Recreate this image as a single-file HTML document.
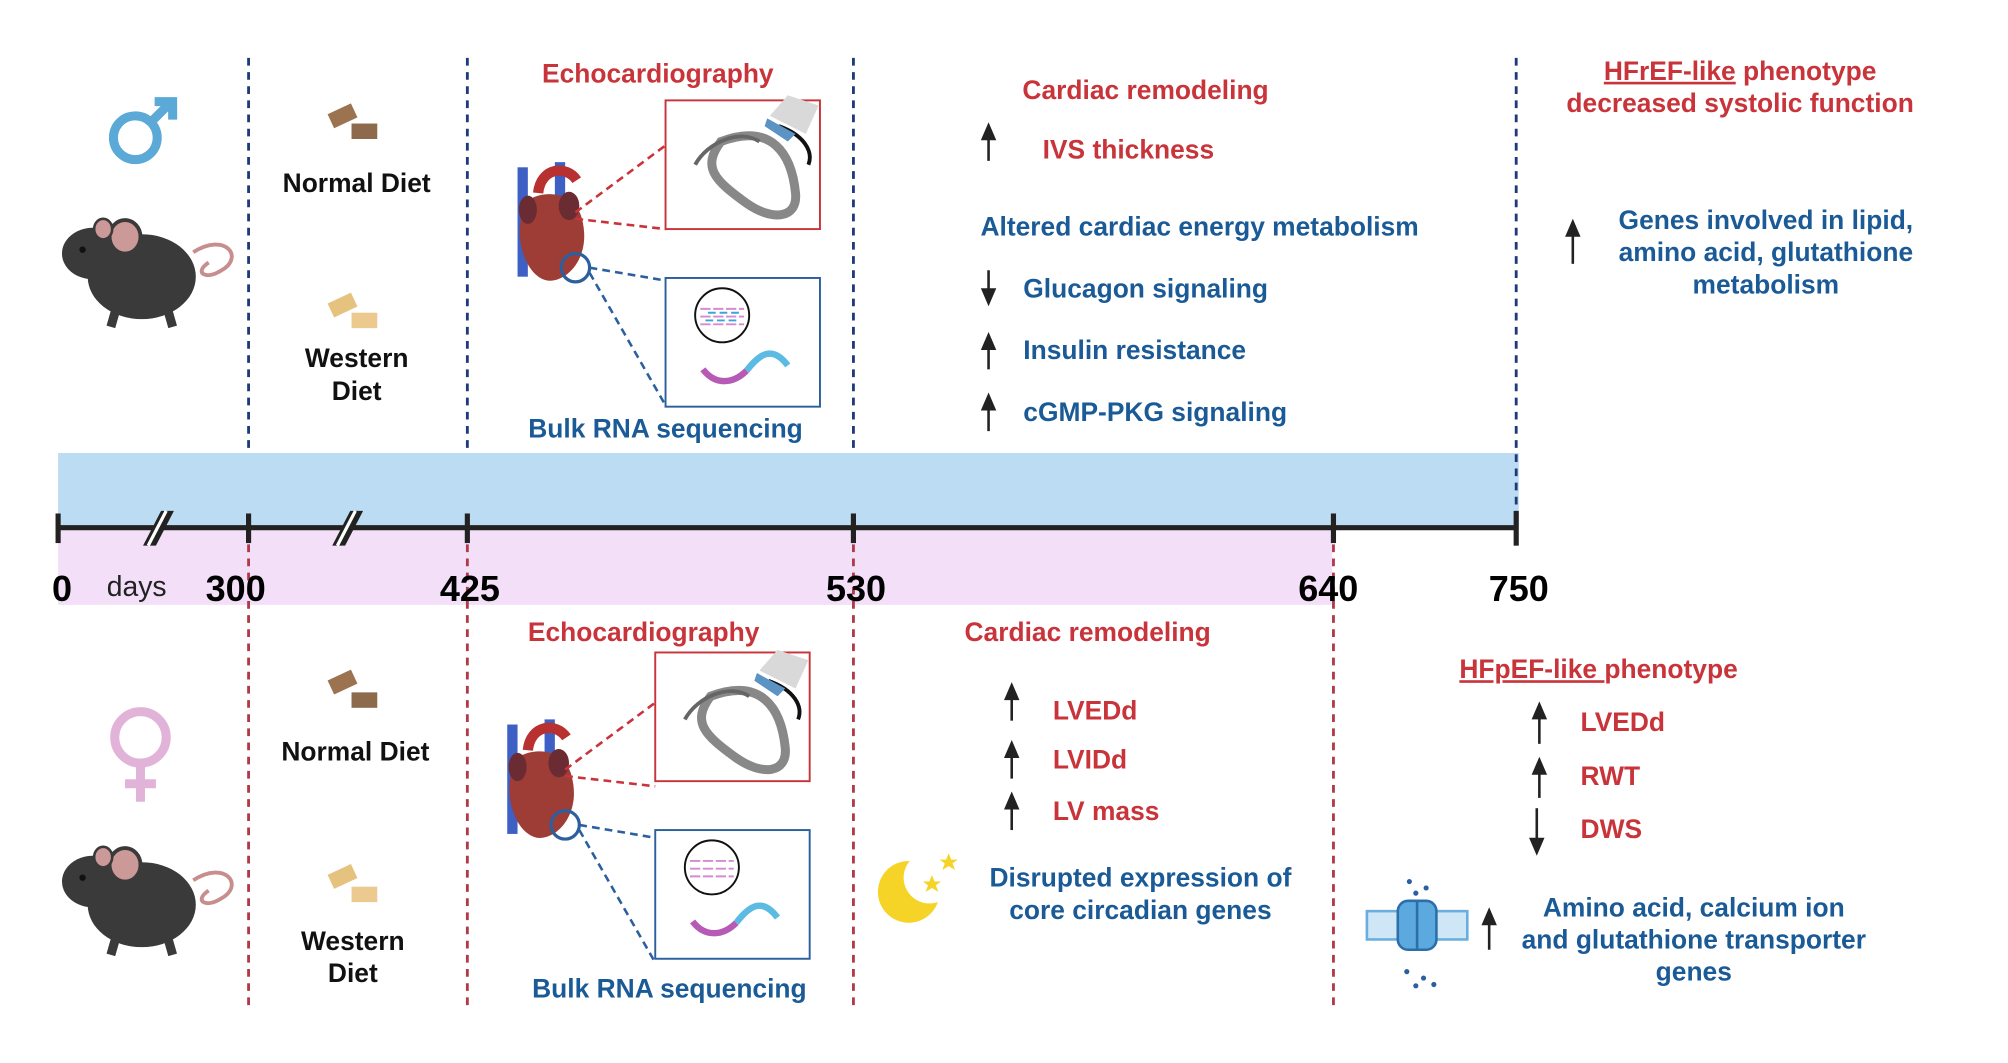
<!DOCTYPE html>
<html><head><meta charset="utf-8">
<style>
html,body{margin:0;padding:0;background:#fff;}
svg{display:block;}
text{font-family:"Liberation Sans",sans-serif;font-weight:bold;}
.r{fill:#c8343a;font-size:20.5px;}
.b{fill:#1a5a96;font-size:20.5px;}
.k{fill:#111;font-size:20.5px;}
.tk{fill:#000;font-size:28px;font-weight:bold;}
</style></head>
<body>
<svg id="fig" width="2008" height="1063" viewBox="0 0 1560 826" xmlns="http://www.w3.org/2000/svg">
<rect x="45" y="352" width="1135" height="58" fill="#bbdcf3"/>
<rect x="45" y="410" width="990" height="60" fill="#f3dff8"/>

<g id="vlines"></g>
<g id="axis"></g>

<g stroke="#5aa9d6" stroke-width="7" fill="none">
<circle cx="105" cy="107" r="17"/><path d="M117,95 L133,79 M120,79 L134,79 L134,93"/></g>
<g stroke="#e2b3d8" stroke-width="7" fill="none">
<circle cx="109" cy="573" r="20"/><path d="M109,593 L109,623 M97,609 L121,609"/></g>

<g>
<path d="M150,196 C175,180 190,200 172,210 C160,218 150,212 162,204" stroke="#c88e8e" stroke-width="3" fill="none"/>
<ellipse cx="110" cy="215" rx="42" ry="33" fill="#3a3a3a"/>
<ellipse cx="72" cy="197" rx="24" ry="20" fill="#3a3a3a"/>
<ellipse cx="97" cy="184" rx="12" ry="13" fill="#c99" stroke="#3a3a3a" stroke-width="3"/>
<ellipse cx="80" cy="178" rx="7" ry="8" fill="#c99" stroke="#3a3a3a" stroke-width="2"/>
<circle cx="64" cy="194" r="2.5" fill="#111"/>
<path d="M90,240 l-4,14 M130,240 l4,14" stroke="#3a3a3a" stroke-width="7"/>
</g>
<g transform="translate(0,488)">
<path d="M150,196 C175,180 190,200 172,210 C160,218 150,212 162,204" stroke="#c88e8e" stroke-width="3" fill="none"/>
<ellipse cx="110" cy="215" rx="42" ry="33" fill="#3a3a3a"/>
<ellipse cx="72" cy="197" rx="24" ry="20" fill="#3a3a3a"/>
<ellipse cx="97" cy="184" rx="12" ry="13" fill="#c99" stroke="#3a3a3a" stroke-width="3"/>
<ellipse cx="80" cy="178" rx="7" ry="8" fill="#c99" stroke="#3a3a3a" stroke-width="2"/>
<circle cx="64" cy="194" r="2.5" fill="#111"/>
<path d="M90,240 l-4,14 M130,240 l4,14" stroke="#3a3a3a" stroke-width="7"/>
</g>

<g><rect x="256" y="84" width="20" height="12" fill="#9c7350" transform="rotate(-25 266 90)"/><rect x="273" y="96" width="20" height="12" fill="#8d6a4c"/></g>
<g><rect x="256" y="231" width="20" height="12" fill="#e6c27f" transform="rotate(-25 266 237)"/><rect x="273" y="243" width="20" height="12" fill="#ecc98f"/></g>
<g><rect x="256" y="524" width="20" height="12" fill="#9c7350" transform="rotate(-25 266 530)"/><rect x="273" y="538" width="20" height="12" fill="#8d6a4c"/></g>
<g><rect x="256" y="675" width="20" height="12" fill="#e6c27f" transform="rotate(-25 266 681)"/><rect x="273" y="689" width="20" height="12" fill="#ecc98f"/></g>

<text class="k" x="277" y="149" text-anchor="middle">Normal Diet</text>
<text class="k" x="277" y="285" text-anchor="middle">Western</text>
<text class="k" x="277" y="311" text-anchor="middle">Diet</text>
<text class="k" x="276" y="591" text-anchor="middle">Normal Diet</text>
<text class="k" x="274" y="738" text-anchor="middle">Western</text>
<text class="k" x="274" y="763" text-anchor="middle">Diet</text>

<g>
<text class="r" x="511" y="64" text-anchor="middle">Echocardiography</text>
<g>
<rect x="402" y="130" width="8" height="85" fill="#3e5fc4"/><rect x="431" y="126" width="8" height="50" fill="#3e5fc4"/>
<path d="M418,150 C420,130 440,128 448,140" stroke="#b83030" stroke-width="8" fill="none"/>
<path d="M405,168 C400,150 445,140 452,170 C460,200 440,220 425,218 C410,215 400,190 405,168 Z" fill="#9e3c36"/>
<ellipse cx="410" cy="163" rx="7" ry="11" fill="#6a2b32"/><ellipse cx="442" cy="160" rx="8" ry="11" fill="#6a2b32"/>
<circle cx="447" cy="208" r="11" fill="none" stroke="#2b5f9e" stroke-width="2.5"/>
</g>
<path d="M447,165 L517,113 M447,170 L517,178" stroke="#c8343a" stroke-width="2" stroke-dasharray="6,4" fill="none"/>
<path d="M458,208 L517,218 M458,212 L517,315" stroke="#2b5f9e" stroke-width="2" stroke-dasharray="6,4" fill="none"/>
<rect x="517" y="78" width="120" height="100" fill="#fff" stroke="#c8343a" stroke-width="1.5"/>
<path d="M560,110 C600,95 615,120 618,150 C620,170 600,172 580,158 C555,140 545,130 560,110 Z" fill="none" stroke="#888" stroke-width="7"/>
<path d="M540,128 C550,110 575,100 590,110" stroke="#666" stroke-width="3" fill="none"/>
<path d="M605,98 C625,105 632,118 628,128" stroke="#111" stroke-width="3" fill="none"/>
<path d="M598,90 L612,74 L636,82 L626,104 Z" fill="#d9d9d9"/><path d="M596,92 L618,104 L612,110 L594,98 Z" fill="#5b93c4"/>
<rect x="517" y="216" width="120" height="100" fill="#fff" stroke="#2b5f9e" stroke-width="1.5"/>
<circle cx="561" cy="245" r="21" fill="#fff" stroke="#111" stroke-width="1.5"/>
<path d="M544,240 h34 M544,246 h34 M544,252 h34" stroke="#d68bd0" stroke-width="1.5" stroke-dasharray="8,2"/>
<path d="M550,243 h24 M548,249 h26" stroke="#3aa5dc" stroke-width="1.5" stroke-dasharray="6,3"/>
<path d="M546,287 C556,300 570,298 580,288" stroke="#b65ab5" stroke-width="5" fill="none"/>
<path d="M580,288 C590,275 600,268 612,284" stroke="#5bbbe2" stroke-width="5" fill="none"/>
<text class="b" x="517" y="340" text-anchor="middle">Bulk RNA sequencing</text>
</g>
<g transform="translate(-8,433)">
<text class="r" x="508" y="65" text-anchor="middle">Echocardiography</text>
<g>
<rect x="402" y="130" width="8" height="85" fill="#3e5fc4"/><rect x="431" y="126" width="8" height="50" fill="#3e5fc4"/>
<path d="M418,150 C420,130 440,128 448,140" stroke="#b83030" stroke-width="8" fill="none"/>
<path d="M405,168 C400,150 445,140 452,170 C460,200 440,220 425,218 C410,215 400,190 405,168 Z" fill="#9e3c36"/>
<ellipse cx="410" cy="163" rx="7" ry="11" fill="#6a2b32"/><ellipse cx="442" cy="160" rx="8" ry="11" fill="#6a2b32"/>
<circle cx="447" cy="208" r="11" fill="none" stroke="#2b5f9e" stroke-width="2.5"/>
</g>
<path d="M447,165 L517,113 M447,170 L517,178" stroke="#c8343a" stroke-width="2" stroke-dasharray="6,4" fill="none"/>
<path d="M458,208 L517,218 M458,212 L517,315" stroke="#2b5f9e" stroke-width="2" stroke-dasharray="6,4" fill="none"/>
<rect x="517" y="74" width="120" height="100" fill="#fff" stroke="#c8343a" stroke-width="1.5"/>
<path d="M560,108 C600,93 615,118 618,148 C620,168 600,170 580,156 C555,138 545,128 560,108 Z" fill="none" stroke="#888" stroke-width="7"/>
<path d="M540,126 C550,108 575,98 590,108" stroke="#666" stroke-width="3" fill="none"/>
<path d="M605,96 C625,103 632,116 628,126" stroke="#111" stroke-width="3" fill="none"/>
<path d="M598,88 L612,72 L636,80 L626,102 Z" fill="#d9d9d9"/><path d="M596,90 L618,102 L612,108 L594,96 Z" fill="#5b93c4"/>
<rect x="517" y="212" width="120" height="100" fill="#fff" stroke="#2b5f9e" stroke-width="1.5"/>
<circle cx="561" cy="241" r="21" fill="#fff" stroke="#111" stroke-width="1.5"/>
<path d="M544,236 h34 M544,242 h34 M544,248 h34" stroke="#d68bd0" stroke-width="1.5" stroke-dasharray="8,2"/>
<path d="M546,283 C556,296 570,294 580,284" stroke="#b65ab5" stroke-width="5" fill="none"/>
<path d="M580,284 C590,271 600,264 612,280" stroke="#5bbbe2" stroke-width="5" fill="none"/>
<text class="b" x="528" y="342" text-anchor="middle">Bulk RNA sequencing</text>
</g>

<text class="r" x="890" y="77" text-anchor="middle">Cardiac remodeling</text>
<text class="r" x="810" y="123">IVS thickness</text>
<text class="b" x="932" y="183" text-anchor="middle">Altered cardiac energy metabolism</text>
<text class="b" x="795" y="231">Glucagon signaling</text>
<text class="b" x="795" y="279">Insulin resistance</text>
<text class="b" x="795" y="327">cGMP-PKG signaling</text>
<text class="r" x="1352" y="62" text-anchor="middle"><tspan text-decoration="underline">HFrEF-like</tspan> phenotype</text>
<text class="r" x="1352" y="87" text-anchor="middle">decreased systolic function</text>
<text class="b" x="1372" y="178" text-anchor="middle">Genes involved in  lipid,</text>
<text class="b" x="1372" y="203" text-anchor="middle">amino acid, glutathione</text>
<text class="b" x="1372" y="228" text-anchor="middle">metabolism</text>

<text class="r" x="845" y="498" text-anchor="middle">Cardiac remodeling</text>
<text class="r" x="818" y="559">LVEDd</text>
<text class="r" x="818" y="597">LVIDd</text>
<text class="r" x="818" y="637">LV mass</text>
<g>
<circle cx="706" cy="693" r="24" fill="#f5d327"/>
<circle cx="722" cy="682" r="20" fill="#fff"/>
<path d="M737,663 l2,5 5,0 -4,3 2,5 -5,-3 -5,3 2,-5 -4,-3 5,0z" fill="#f5d327"/>
<path d="M724,680 l2,5 5,0 -4,3 2,5 -5,-3 -5,3 2,-5 -4,-3 5,0z" fill="#f5d327"/>
</g>
<text class="b" x="886" y="689" text-anchor="middle">Disrupted expression of</text>
<text class="b" x="886" y="714" text-anchor="middle">core circadian genes</text>
<text class="r" x="1242" y="527" text-anchor="middle"><tspan text-decoration="underline">HFpEF-like </tspan>phenotype</text>
<text class="r" x="1228" y="568">LVEDd</text>
<text class="r" x="1228" y="610">RWT</text>
<text class="r" x="1228" y="651">DWS</text>
<g>
<rect x="1062" y="708" width="78" height="22" fill="#cfe6f7" stroke="#6aaee0" stroke-width="2"/>
<rect x="1086" y="700" width="30" height="38" rx="8" fill="#5ba9de" stroke="#2b6ea8" stroke-width="2"/>
<line x1="1101" y1="700" x2="1101" y2="738" stroke="#2b6ea8" stroke-width="2"/>
<circle cx="1095" cy="685" r="2" fill="#2b5f9e"/><circle cx="1108" cy="690" r="2" fill="#2b5f9e"/><circle cx="1100" cy="694" r="2" fill="#2b5f9e"/>
<circle cx="1093" cy="755" r="2" fill="#2b5f9e"/><circle cx="1106" cy="760" r="2" fill="#2b5f9e"/><circle cx="1100" cy="766" r="2" fill="#2b5f9e"/><circle cx="1114" cy="765" r="2" fill="#2b5f9e"/>
</g>
<text class="b" x="1316" y="712" text-anchor="middle">Amino acid, calcium ion</text>
<text class="b" x="1316" y="737" text-anchor="middle">and glutathione transporter</text>
<text class="b" x="1316" y="762" text-anchor="middle">genes</text>

<g id="arrows"></g>
</svg>
<script>
var tickValues = [0, 300, 425, 530, 640, 750];
var tickLabels = ["0", "300", "425", "530", "640", "750"];
var maleLineDays = [300, 425, 530, 750];
var femaleLineDays = [300, 425, 530, 640];
var breakDays = [150, 362];
// piecewise (non-linear) timeline axis
var axisDomain = [0, 300, 425, 530, 640, 750];
var axisRange = [45, 193, 363, 663, 1036, 1178];
function xScale(d){
  for(var i=0;i<axisDomain.length-1;i++){
    if(d<=axisDomain[i+1]){var t=(d-axisDomain[i])/(axisDomain[i+1]-axisDomain[i]);return axisRange[i]+t*(axisRange[i+1]-axisRange[i]);}
  }
  return axisRange[axisRange.length-1];
}
var NS="http://www.w3.org/2000/svg";
function mk(tag,attrs,parent){var e=document.createElementNS(NS,tag);for(var k in attrs)e.setAttribute(k,attrs[k]);parent.appendChild(e);return e;}
var vl=document.getElementById('vlines');
maleLineDays.forEach(function(d){
  var x=xScale(d);
  var l=mk('line',{x1:x,x2:x,y1:45,y2:d===750?410:352,stroke:'#1f3a7a','stroke-width':2.2,'stroke-dasharray':'6,5'},vl);
  
  
});
femaleLineDays.forEach(function(d){
  var x=xScale(d);
  var l=mk('line',{x1:x,x2:x,y1:412,y2:782,stroke:'#b03a48','stroke-width':2.2,'stroke-dasharray':'6,5'},vl);
  
  
});
var ax=document.getElementById('axis');
var base=mk('line',{x1:xScale(0),x2:xScale(750),y1:410,y2:410,stroke:'#222','stroke-width':4},ax);


tickValues.forEach(function(v,i){
  var x=xScale(v);
  var t=mk('line',{x1:x,x2:x,y1:v===750?397:399,y2:v===750?424:422,stroke:'#222','stroke-width':4},ax);
  
  
  var lx = v===0?x+3:(v===300?x-10:(v===640?x-4:x+2));
  var tx=mk('text',{x:lx,y:467,'text-anchor':'middle','class':'tk'},ax);
  tx.textContent=tickLabels[i];
  
  
});
breakDays.forEach(function(d,i){
  var x=i===0?125:272;
  var g=mk('g',{},ax);
  
  
  mk('path',{d:'M'+(x-14)+',424 L'+x+',397 L'+(x+10)+',397 L'+(x-4)+',424 Z',fill:'#222'},g);
  mk('path',{d:'M'+(x-10)+',424 L'+(x+4)+',397',stroke:'#fff','stroke-width':2.5},g);
});
var days=mk('text',{x:106,y:463,'text-anchor':'middle',fill:'#222','font-size':'22',style:'font-weight:normal'},ax);
days.textContent='days';



var arrowDefs=[[768,125,95],[768,210,238],[768,287,258],[768,335,305],[1222,205,170],
 [786,560,530],[786,605,575],[786,645,615],[1196,578,545],[1196,620,588],[1194,628,665],[1157,738,705]];
var ag=document.getElementById('arrows');
arrowDefs.forEach(function(a){
  var up=a[2]<a[1];
  var g=mk('g',{},ag);
  
  
  var tip=a[2], tail=a[1], dir=up?1:-1;
  mk('line',{x1:a[0],x2:a[0],y1:tail,y2:tip+dir*10,stroke:'#222','stroke-width':2},g);
  mk('path',{d:'M'+a[0]+','+tip+' L'+(a[0]-6)+','+(tip+dir*14)+' L'+(a[0]+6)+','+(tip+dir*14)+' Z',fill:'#222'},g);
});
</script>
</body></html>
